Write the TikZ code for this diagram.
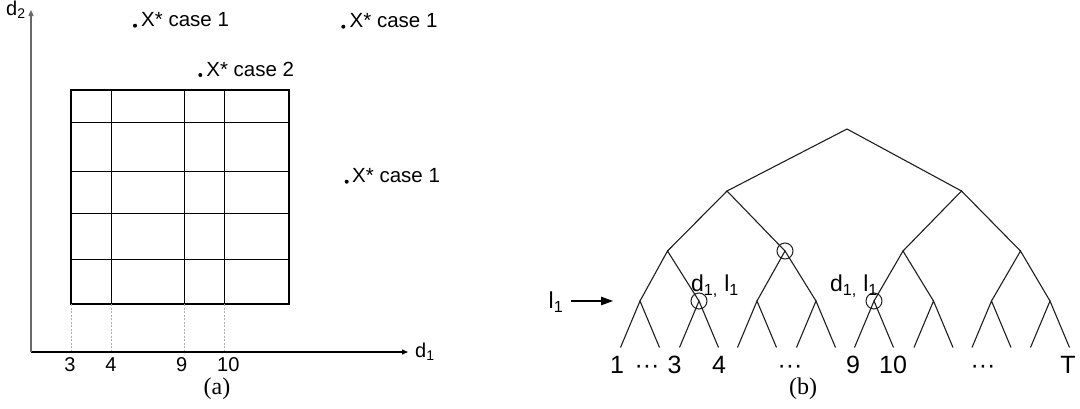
\documentclass[tikz,border=0pt]{standalone}
\usepackage{fontspec}
\setmainfont{Liberation Sans}
\newfontfamily\capfont{Liberation Serif}
\usepackage{xcolor}
\usepackage{tikz}
\usetikzlibrary{arrows.meta,positioning}
\definecolor{axisgray}{RGB}{105,105,105}
\definecolor{guidegray}{RGB}{175,175,175}
\definecolor{treeink}{RGB}{30,30,30}
\newcommand{\fsz}[1]{\fontsize{#1}{#1}\selectfont}

\begin{document}
\begin{tikzpicture}[x=1pt, y=-1pt]
    \tikzstyle{axisline} = [line width=1.3pt, -{Triangle[length=6pt,width=5pt]}]
    \tikzstyle{gridline} = [line width=1pt]
    \tikzstyle{gridbox} = [line width=2.3pt]
    \tikzstyle{guide} = [guidegray, line width=0.6pt, dash pattern=on 2pt off 1.5pt]
    \tikzstyle{ticklab} = [anchor=base, inner sep=0pt, font=\fsz{20}]
    \tikzstyle{pointlab} = [anchor=base west, inner sep=0pt, font=\fsz{20.5}]
    \tikzstyle{ptdot} = [circle, fill=black, inner sep=0pt, minimum size=4pt]
    \tikzstyle{treeedge} = [treeink, line width=1.1pt]
    \tikzstyle{hitcircle} = [circle, draw=treeink, line width=1pt, inner sep=0pt, minimum size=16pt]
    \tikzstyle{branchlab} = [anchor=base, inner sep=0pt, font=\fsz{23}]
    \tikzstyle{leaflab} = [anchor=base, inner sep=0pt, font=\fsz{25}]
    \tikzstyle{caplab} = [anchor=base, inner sep=0pt, font=\capfont\fsz{24}]
    \tikzstyle{levarrow} = [line width=1.1pt, -{Triangle[length=12pt,width=8.5pt]}, shorten <=8pt]

    \useasboundingbox (0,0) rectangle (1080,408);

    % (a) design space
    \coordinate (o) at (31,352);
    \coordinate (xend) at (408,352);
    \coordinate (yend) at (31,10);
    \draw[axisline] (o) -- (xend);
    \draw[axisline, axisgray] (o) -- (yend);
    \node[ticklab, anchor=base west] (d1) at (415,357) {d\textsubscript{1}};
    \node[ticklab, anchor=base west] (d2) at (6,15) {d\textsubscript{2}};

    \foreach \gx in {111.3,184.3,224.3}
        \draw[gridline] (\gx,90) -- (\gx,304);
    \foreach \gy in {122.3,171.7,213.3,259.3}
        \draw[gridline] (71,\gy) -- (289,\gy);
    \draw[gridbox] (71,90) rectangle (289,304);

    \foreach \gx/\tx/\lab in {71/70/3, 111.3/111/4, 184.3/181.7/9, 224.3/228.3/10} {
        \draw[guide] (\gx,304) -- (\gx,351);
        \node[ticklab] (t\lab) at (\tx,371) {\lab};
    }

    \node[ptdot] (x1) at (135,25.7) {};
    \node[pointlab] (x1lab) at (141,26.7) {X* case 1};
    \node[ptdot] (x2) at (343.3,26.7) {};
    \node[pointlab] (x2lab) at (349.5,27.5) {X* case 1};
    \node[ptdot] (x3) at (200.3,75) {};
    \node[pointlab] (x3lab) at (206.2,76) {X* case 2};
    \node[ptdot] (x4) at (346.7,181.7) {};
    \node[pointlab] (x4lab) at (352,182.5) {X* case 1};

    \node[caplab] (capa) at (217,394) {(a)};

    % (b) binary tree
    \coordinate (r) at (847,129);
    \coordinate (a) at (727,191);
    \coordinate (b) at (961.5,191);
    \coordinate (aa) at (667.5,251);
    \coordinate (ab) at (785,251);
    \coordinate (ba) at (903,251);
    \coordinate (bb) at (1020.5,251);
    \foreach \i/\cx in {1/640, 2/699, 3/757, 4/816, 5/874, 6/933.5, 7/991.5, 8/1050} {
        \coordinate (c\i) at (\cx,301);
        \coordinate (c\i l) at (\cx-19.5,347.5);
        \coordinate (c\i r) at (\cx+19.5,347.5);
        \draw[treeedge] (c\i l) -- (c\i) -- (c\i r);
    }
    \draw[treeedge] (a) -- (r) -- (b);
    \draw[treeedge] (aa) -- (a) -- (ab);
    \draw[treeedge] (ba) -- (b) -- (bb);
    \draw[treeedge] (c1) -- (aa) -- (c2);
    \draw[treeedge] (c3) -- (ab) -- (c4);
    \draw[treeedge] (c5) -- (ba) -- (c6);
    \draw[treeedge] (c7) -- (bb) -- (c8);

    \node[hitcircle] (h1) at (ab) {};
    \node[hitcircle] (h2) at (c2) {};
    \node[hitcircle] (h3) at (c5) {};
    \node[branchlab] (dl1) at (715,291.5) {d\textsubscript{1,} l\textsubscript{1}};
    \node[branchlab] (dl2) at (854,291.5) {d\textsubscript{1,} l\textsubscript{1}};

    \node[branchlab] (lev) at (556,308.5) {l\textsubscript{1}};
    \coordinate (levtip) at (613,301);
    \draw[levarrow] (lev.east |- levtip) -- (levtip);

    \node[leaflab] (n1) at (617,373) {1};
    \node[leaflab] (e1) at (647,373) {\textperiodcentered\textperiodcentered\textperiodcentered};
    \node[leaflab] (n3) at (674.5,373) {3};
    \node[leaflab] (n4) at (719,373) {4};
    \node[leaflab] (e2) at (790,373) {\textperiodcentered\textperiodcentered\textperiodcentered};
    \node[leaflab] (n9) at (853,373) {9};
    \node[leaflab] (n10) at (893,373) {10};
    \node[leaflab] (e3) at (983,373) {\textperiodcentered\textperiodcentered\textperiodcentered};
    \node[leaflab] (nT) at (1068,373) {T};

    \node[caplab] (capb) at (803,394) {(b)};
\end{tikzpicture}
\end{document}
